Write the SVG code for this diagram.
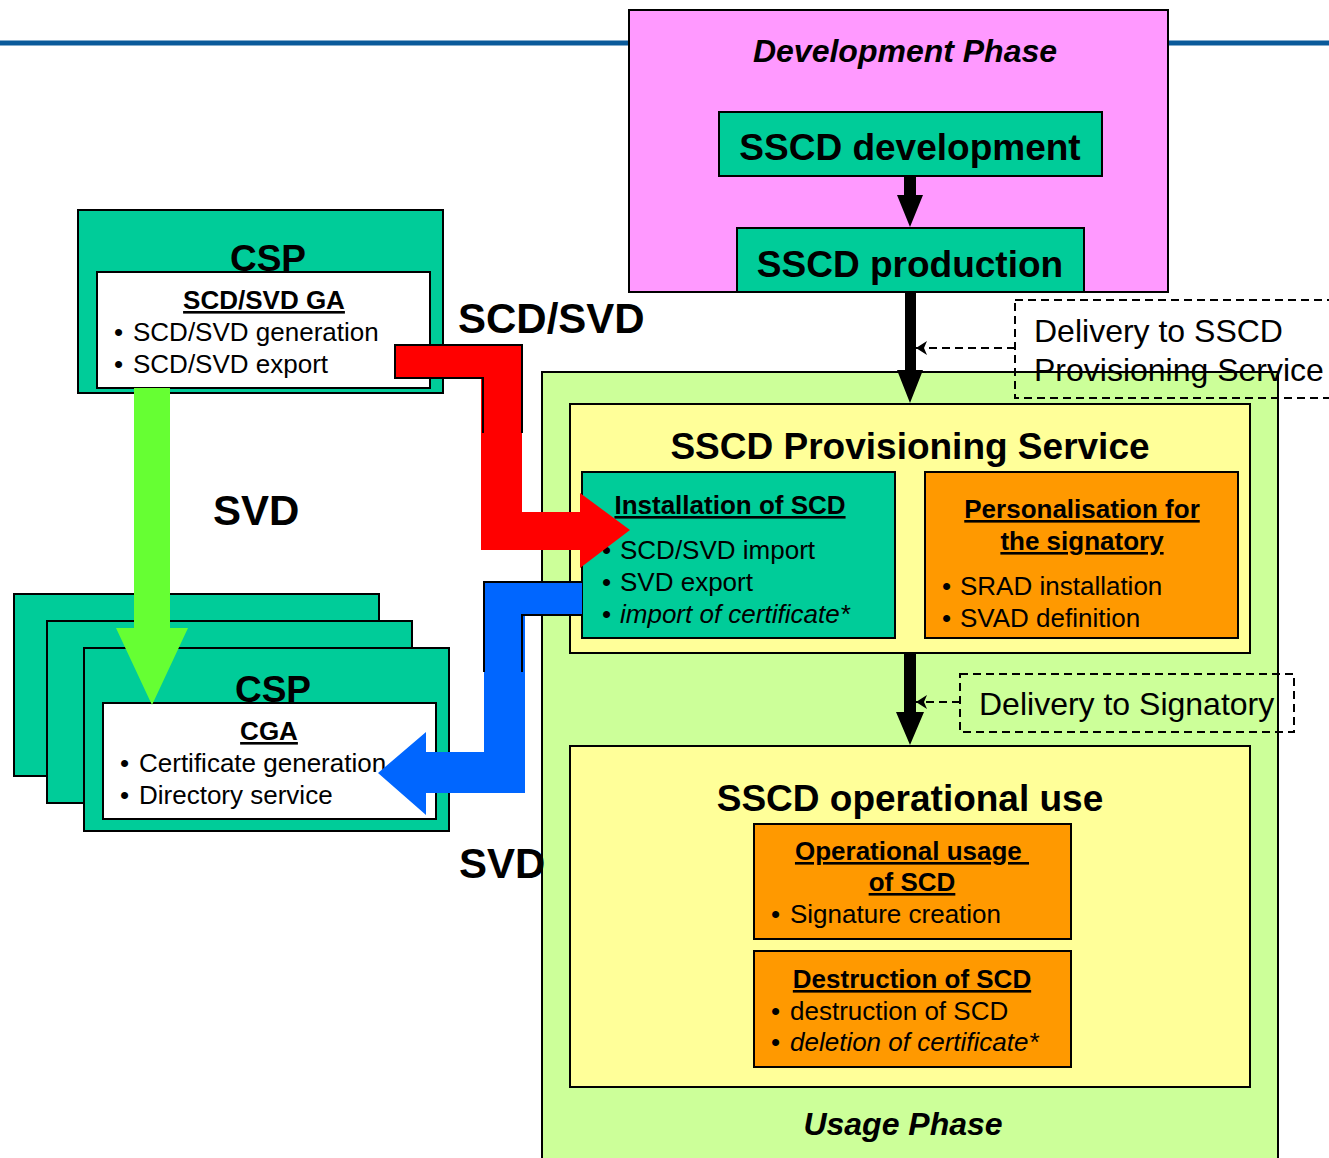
<svg xmlns="http://www.w3.org/2000/svg" width="1329" height="1158" viewBox="0 0 1329 1158">
<style>
text{font-family:"Liberation Sans",Arial,sans-serif;fill:#000}
.box{stroke:#000;stroke-width:2}
.teal{fill:#00cc99}
.orange{fill:#ff9900}
.yellow{fill:#ffff99}
.h1{font-size:37px;font-weight:bold;text-anchor:middle}
.ph{font-size:32px;font-weight:bold;font-style:italic;text-anchor:middle}
.h2{font-size:26px;font-weight:bold;text-anchor:middle;text-decoration:underline}
.body{font-size:26px}
.bul{font-size:26px}
.dl{font-size:32px}
.lab{font-size:42px;font-weight:bold}
.dash{fill:none;stroke:#000;stroke-width:2;stroke-dasharray:8 5}
</style>
<defs>
<marker id="ah" markerWidth="12" markerHeight="14" refX="11" refY="7" orient="auto" markerUnits="userSpaceOnUse">
<path d="M11,7 L0,0 L3,7 L0,14 Z" fill="#000"/>
</marker>
</defs>
<rect width="1329" height="1158" fill="#fff"/>
<line x1="0" y1="43" x2="1329" y2="43" stroke="#0a5a9a" stroke-width="5"/>

<g id="development-phase">
<rect x="629" y="10" width="539" height="282" fill="#ff99ff" class="box"/>
<text x="905" y="62" class="ph">Development Phase</text>
</g>
<g id="sscd-development">
<rect x="719" y="112" width="383" height="64" class="box teal"/>
<text x="910" y="160" class="h1">SSCD development</text>
</g>
<g id="sscd-production">
<rect x="737" y="228" width="347" height="64" class="box teal"/>
<text x="910" y="277" class="h1">SSCD production</text>
</g>

<g id="usage-phase">
<rect x="542" y="372" width="736" height="800" fill="#ccff99" class="box"/>
<text x="903" y="1135" class="ph">Usage Phase</text>
</g>
<g id="provisioning-service">
<rect x="570" y="404" width="680" height="249" class="box yellow"/>
<text x="910" y="459" class="h1">SSCD Provisioning Service</text>
</g>
<g id="installation-of-scd">
<rect x="582" y="472" width="313" height="166" class="box teal"/>
<text x="730" y="514" class="h2">Installation of SCD</text>
<text class="body"><tspan class="bul" x="602" y="559">•</tspan><tspan x="620" y="559">SCD/SVD import</tspan></text>
<text class="body"><tspan class="bul" x="602" y="591">•</tspan><tspan x="620" y="591">SVD export</tspan></text>
<text class="body"><tspan class="bul" x="602" y="623">•</tspan><tspan x="620" y="623" font-style="italic">import of certificate*</tspan></text>
</g>
<g id="personalisation">
<rect x="925" y="472" width="313" height="166" class="box orange"/>
<text x="1082" y="518" class="h2">Personalisation for</text>
<text x="1082" y="550" class="h2">the signatory</text>
<text class="body"><tspan class="bul" x="942" y="595">•</tspan><tspan x="960" y="595">SRAD installation</tspan></text>
<text class="body"><tspan class="bul" x="942" y="627">•</tspan><tspan x="960" y="627">SVAD definition</tspan></text>
</g>
<g id="operational-use">
<rect x="570" y="746" width="680" height="341" class="box yellow"/>
<text x="910" y="811" class="h1">SSCD operational use</text>
</g>
<g id="operational-usage">
<rect x="754" y="824" width="317" height="115" class="box orange"/>
<text x="912" y="860" class="h2" xml:space="preserve">Operational usage </text>
<text x="912" y="891" class="h2">of SCD</text>
<text class="body"><tspan class="bul" x="771" y="923">•</tspan><tspan x="790" y="923">Signature creation</tspan></text>
</g>
<g id="destruction-of-scd">
<rect x="754" y="951" width="317" height="116" class="box orange"/>
<text x="912" y="988" class="h2">Destruction of SCD</text>
<text class="body"><tspan class="bul" x="771" y="1020">•</tspan><tspan x="790" y="1020">destruction of SCD</tspan></text>
<text class="body"><tspan class="bul" x="771" y="1051">•</tspan><tspan x="790" y="1051" font-style="italic">deletion of certificate*</tspan></text>
</g>

<g id="delivery-sscd">
<rect x="1015" y="300" width="330" height="98" class="dash"/>
<text x="1034" y="342" class="dl">Delivery to SSCD</text>
<text x="1034" y="381" class="dl">Provisioning Service</text>
</g>
<g id="delivery-signatory">
<rect x="960" y="674" width="334" height="58" class="dash"/>
<text x="979" y="715" class="dl">Delivery to Signatory</text>
</g>
<rect x="542" y="372" width="736" height="800" fill="none" class="box"/>

<g id="csp-top">
<rect x="78" y="210" width="365" height="183" class="box teal"/>
<text x="268" y="271" class="h1">CSP</text>
<rect x="97" y="272" width="333" height="116" fill="#fff" class="box"/>
<text x="264" y="309" class="h2">SCD/SVD GA</text>
<text class="body"><tspan class="bul" x="114" y="341">•</tspan><tspan x="133" y="341">SCD/SVD generation</tspan></text>
<text class="body"><tspan class="bul" x="114" y="373">•</tspan><tspan x="133" y="373">SCD/SVD export</tspan></text>
</g>
<g id="csp-stack">
<rect x="14" y="594" width="365" height="182" class="box teal"/>
<rect x="47" y="621" width="365" height="182" class="box teal"/>
<rect x="84" y="648" width="365" height="183" class="box teal"/>
<text x="273" y="702" class="h1">CSP</text>
<rect x="103" y="703" width="333" height="116" fill="#fff" class="box"/>
<text x="269" y="740" class="h2">CGA</text>
<text class="body"><tspan class="bul" x="120" y="772">•</tspan><tspan x="139" y="772">Certificate generation</tspan></text>
<text class="body"><tspan class="bul" x="120" y="804">•</tspan><tspan x="139" y="804">Directory service</tspan></text>
</g>

<g id="connectors">
<path d="M904,176 H916 V195 H923 L910,227 L897,195 H904 Z" fill="#000"/>
<path d="M905,292 H916 V370 H923 L910,403 L897,370 H905 Z" fill="#000"/>
<path d="M904,653 H916 V712 H924 L910,745 L896,712 H904 Z" fill="#000"/>
<line x1="1015" y1="348" x2="916" y2="348" class="dash" marker-end="url(#ah)"/>
<line x1="960" y1="702" x2="916" y2="702" class="dash" marker-end="url(#ah)"/>
<path d="M134,388 H170 V628 H188 L152,705 L116,628 H134 Z" fill="#66ff33"/>
<path d="M395,345 H522 V512 H580 V493 L630,530 L580,568 V550 H481 V378 H395 Z" fill="#ff0000"/>
<polyline points="483,433 483,378 395,378 395,345 522,345 522,433" fill="none" stroke="#000" stroke-width="2"/>
<path d="M484,582 H582 V615 H525 V793 H426 V815 L378,773 L426,732 V752 H484 Z" fill="#0066ff"/>
<polyline points="484,672 484,582 582,582" fill="none" stroke="#000" stroke-width="2"/>
<polyline points="522,672 522,615 582,615" fill="none" stroke="#000" stroke-width="2"/>
</g>

<g id="labels">
<text x="458" y="333" class="lab">SCD/SVD</text>
<text x="213" y="525" class="lab">SVD</text>
<text x="459" y="878" class="lab">SVD</text>
</g>
</svg>
